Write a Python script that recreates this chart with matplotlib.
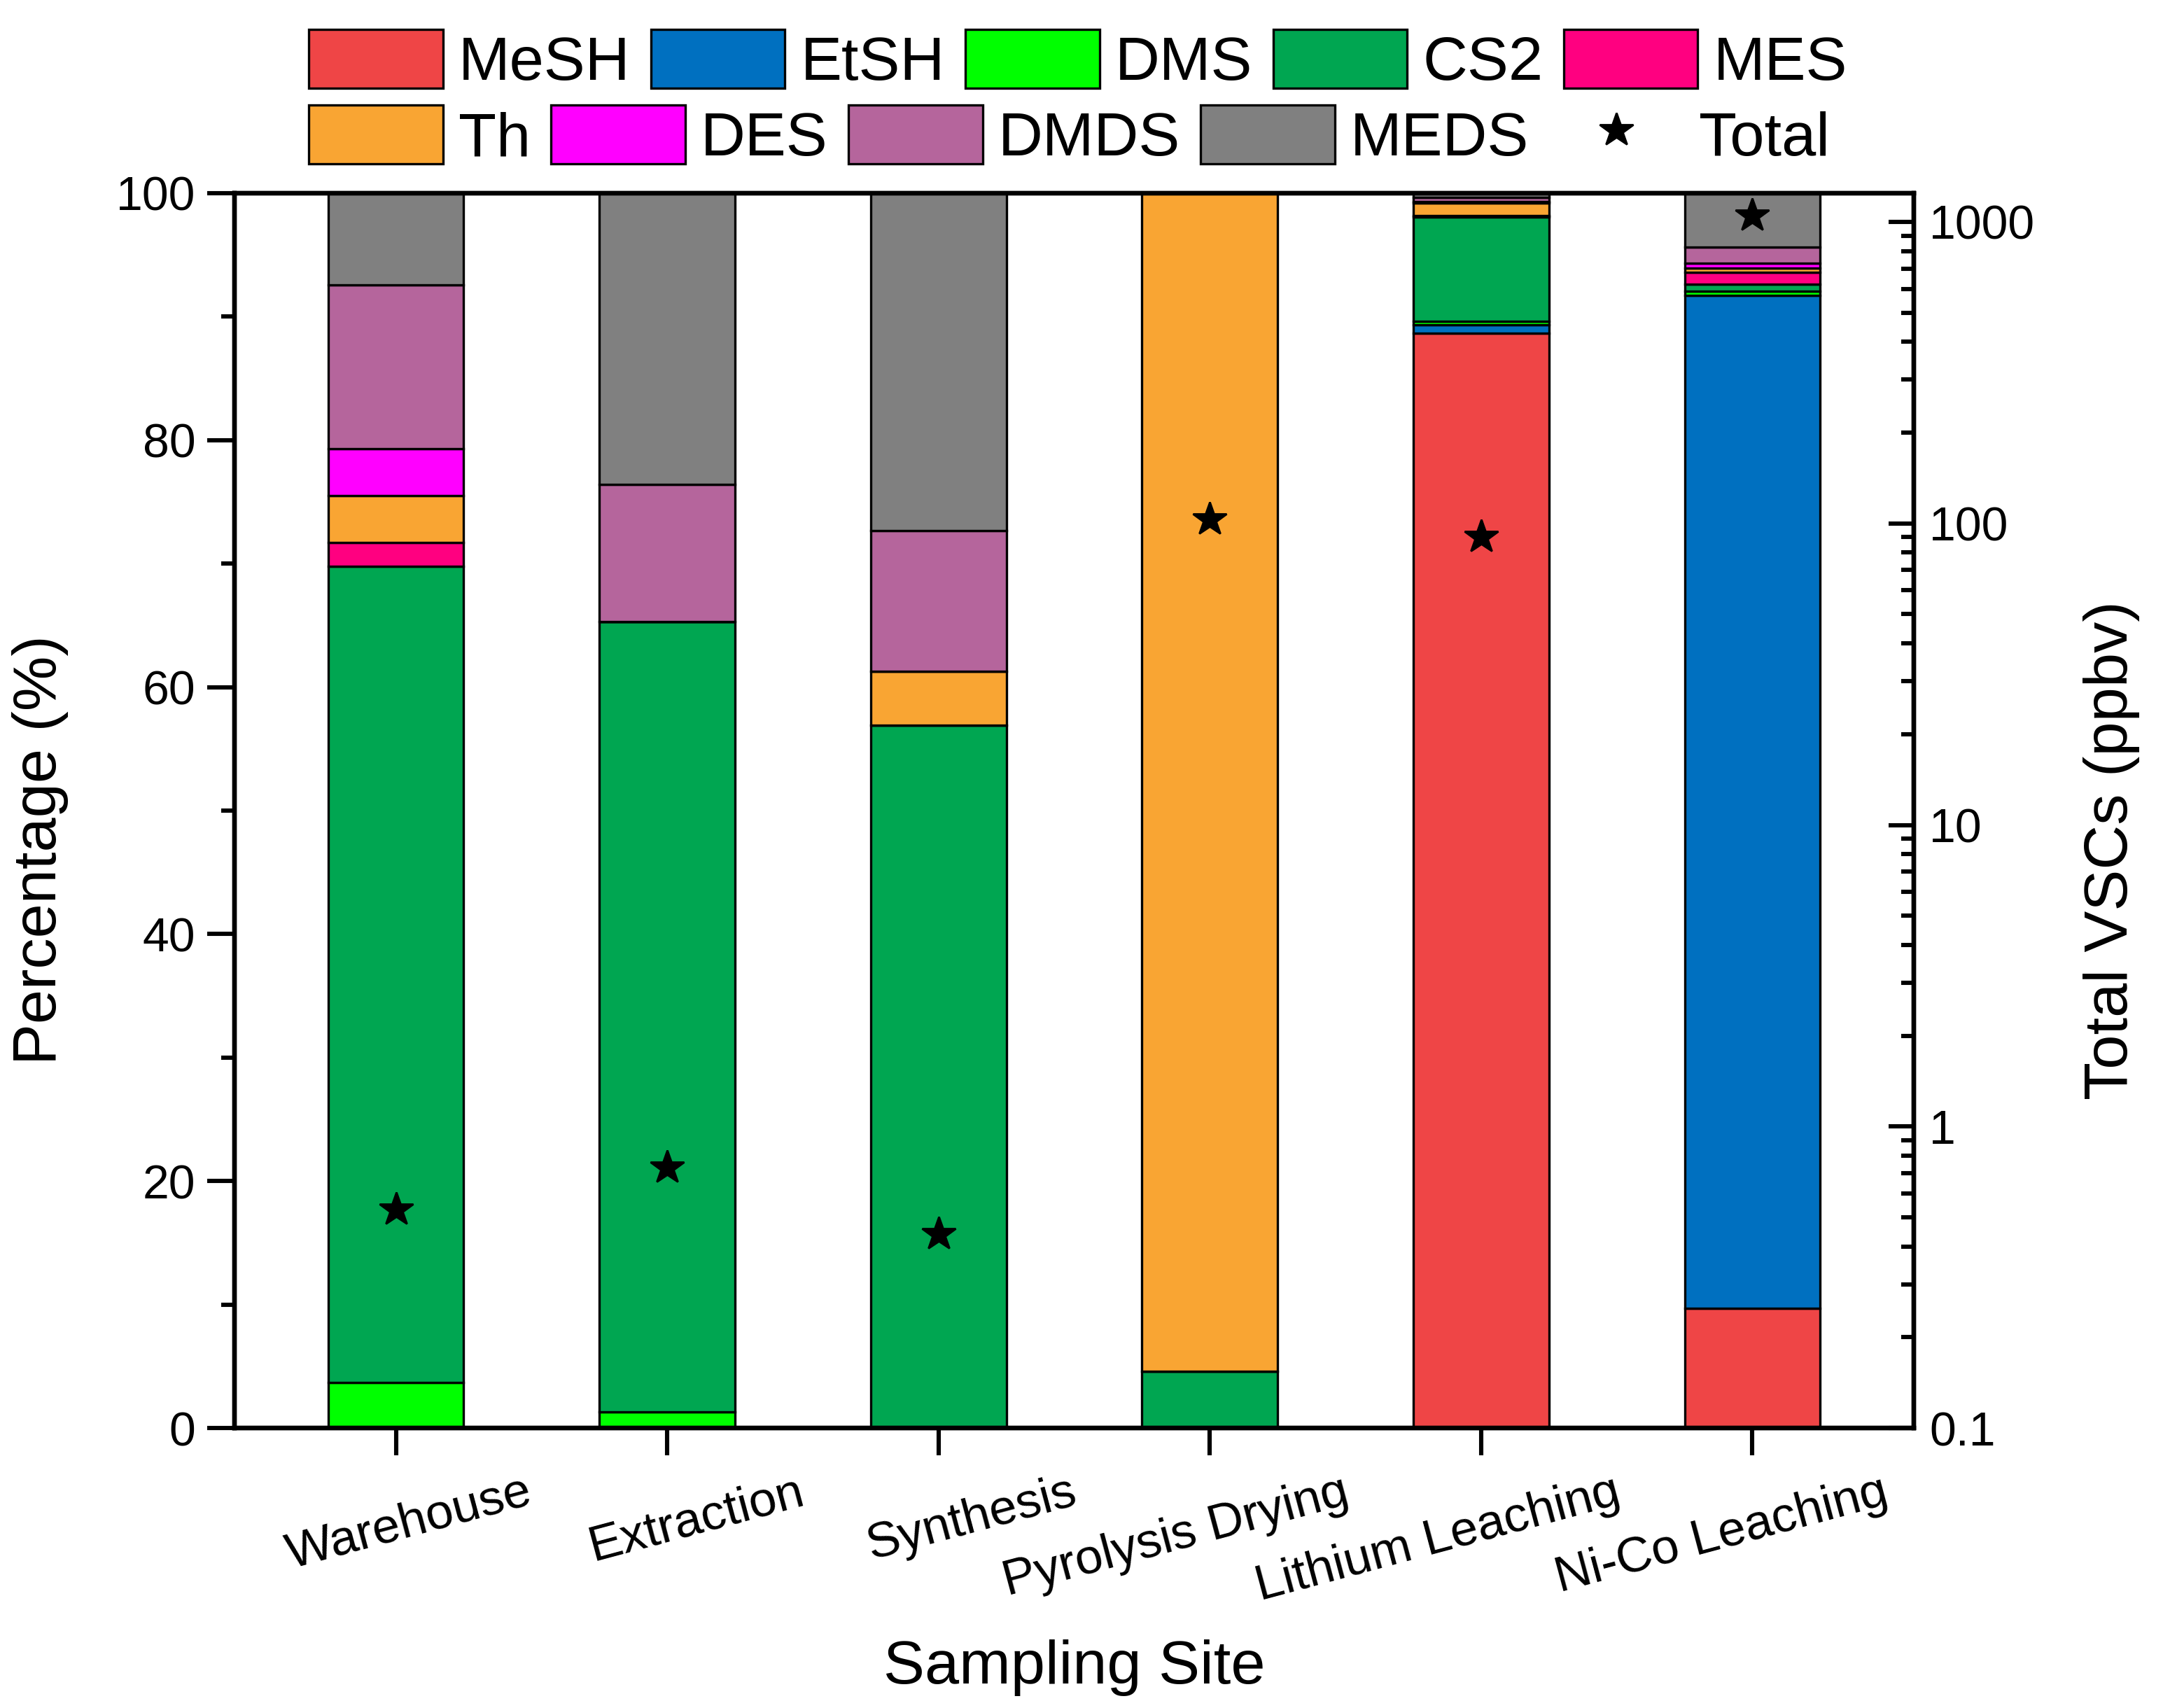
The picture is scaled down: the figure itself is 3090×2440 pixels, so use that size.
import matplotlib
matplotlib.use("Agg")
import matplotlib.pyplot as plt
import matplotlib.transforms as mtransforms
import numpy as np
from matplotlib.patches import Patch
from matplotlib.lines import Line2D
from matplotlib.ticker import MultipleLocator, LogLocator, FixedFormatter, FixedLocator, NullFormatter

plt.rcParams['font.family'] = ['Liberation Sans', 'DejaVu Sans']

# sampling sites and composition (%)
sites = ['Warehouse', 'Extraction', 'Synthesis', 'Pyrolysis Drying',
         'Lithium Leaching', 'Ni-Co Leaching']
mesh = [0, 0, 0, 0, 88.65, 9.7]
etsh = [0, 0, 0, 0, 0.7, 82.0]
dms = [3.7, 1.3, 0, 0, 0.25, 0.35]
cs2 = [66.1, 64.0, 56.9, 4.6, 8.45, 0.6]
mes = [1.9, 0, 0, 0, 0.15, 0.95]
th = [3.8, 0, 4.4, 95.4, 1.0, 0.35]
des = [3.8, 0, 0, 0, 0.1, 0.4]
dmds = [13.3, 11.1, 11.4, 0, 0.35, 1.3]
meds = [7.4, 23.6, 27.3, 0, 0.35, 4.35]

# total VSCs (ppbv)
total = [0.53, 0.73, 0.44, 103, 90, 1050]

species = ['MeSH', 'EtSH', 'DMS', 'CS2', 'MES', 'Th', 'DES', 'DMDS', 'MEDS']
values = [mesh, etsh, dms, cs2, mes, th, des, dmds, meds]
colors = ['#EF4546', '#0070C0', '#00FF00', '#00A651', '#FF0080',
          '#F9A533', '#FF00FF', '#B5659C', '#808080']

fs_lab = 31.8
fs_tick = 24.5

fig = plt.figure(figsize=(15.45, 12.2), dpi=200)
ax = fig.add_axes([0.1084, 0.1639, 0.7764, 0.7230])

x = np.arange(len(sites))
bottom = np.zeros(len(sites))
for name, vals, c in zip(species, values, colors):
    vals = np.array(vals, dtype=float)
    ax.bar(x, vals, width=0.5, bottom=bottom, color=c, edgecolor='black',
           linewidth=1.2, label=name, zorder=2)
    bottom += vals

ax.set_xlim(-0.595, len(sites) - 1 + 0.595)
ax.set_ylim(0, 100)
ax.yaxis.set_major_locator(MultipleLocator(20))
ax.yaxis.set_minor_locator(MultipleLocator(10))
ax.set_xticks(x)
ax.set_xticklabels(sites, rotation=15, ha='center', fontsize=25.5)
ax.tick_params(axis='y', which='major', direction='out', length=14, width=2.2,
               labelsize=fs_tick, pad=6)
ax.tick_params(axis='y', which='minor', direction='out', length=7, width=2.2)
ax.tick_params(axis='x', which='major', direction='out', length=14, width=2.2, pad=7)
for s in ax.spines.values():
    s.set_linewidth(2.3)

# small horizontal shifts of the rotated site labels (points), after tick_params
shifts = [6.8, 15.1, 17.3, -17.3, -22.3, -15.8]
for lab, dx in zip(ax.get_xticklabels(), shifts):
    lab.set_transform(lab.get_transform() +
                      mtransforms.ScaledTranslation(dx / 72, 0, fig.dpi_scale_trans))

ax.set_ylabel('Percentage (%)', fontsize=fs_lab)
ax.yaxis.set_label_coords(-0.0986, 0.468)
ax.set_xlabel('Sampling Site', fontsize=fs_lab)
ax.xaxis.set_label_coords(0.5, -0.171)

ax2 = ax.twinx()
ax2.set_yscale('log')
ax2.set_ylim(0.1, 1245)
ax2.plot(x, total, linestyle='None', marker='*', color='black', markersize=18, zorder=3)
ax2.yaxis.set_major_locator(FixedLocator([0.1, 1, 10, 100, 1000]))
ax2.yaxis.set_major_formatter(FixedFormatter(['0.1', '1', '10', '100', '1000']))
ax2.yaxis.set_minor_locator(LogLocator(base=10, subs=np.arange(2, 10)))
ax2.yaxis.set_minor_formatter(NullFormatter())
ax2.tick_params(axis='y', which='major', direction='in', length=13, width=2.2,
                labelsize=fs_tick, pad=8)
ax2.tick_params(axis='y', which='minor', direction='in', length=6.5, width=2.2)
for s in ax2.spines.values():
    s.set_linewidth(2.3)
ax2.set_ylabel('Total VSCs (ppbv)', fontsize=fs_lab)
ax2.yaxis.set_label_coords(1.1009, 0.468)

# legend, two separate rows
patches = [Patch(facecolor=c, edgecolor='black', linewidth=1.2) for c in colors]
star = Line2D([], [], linestyle='None', marker='*', color='black', markersize=18)
leg_kw = dict(ncol=5, loc='center left', frameon=False, fontsize=fs_lab,
              handlelength=2.17, handleheight=1.08, handletextpad=0.25,
              columnspacing=0.33, borderpad=0, borderaxespad=0)
fig.legend(patches[:5], species[:5], bbox_to_anchor=(0.1428, 0.9644), **leg_kw)
fig.legend(patches[5:] + [star], species[5:] + ['Total'],
           bbox_to_anchor=(0.1428, 0.920), **leg_kw)

fig.savefig('out.png', dpi=200)
